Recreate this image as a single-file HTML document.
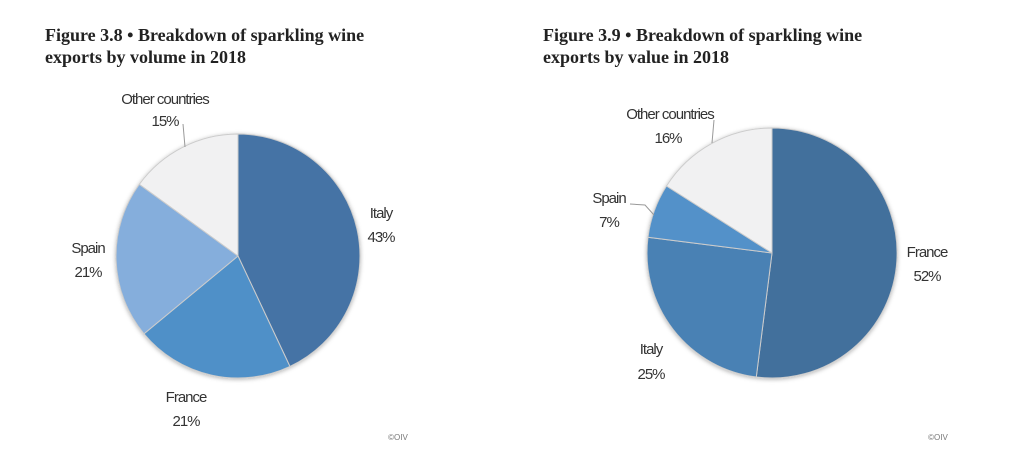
<!DOCTYPE html>
<html><head><style>
body{margin:0;background:#fff;width:1030px;height:469px;overflow:hidden;position:relative}
.t{position:absolute;font-family:"Liberation Serif",serif;font-weight:bold;font-size:18px;color:#222;line-height:22px}
</style></head><body>
<div class="t" style="left:45px;top:24px">Figure 3.8 • Breakdown of sparkling wine<br>exports by volume in 2018</div>
<div class="t" style="left:543px;top:24px">Figure 3.9 • Breakdown of sparkling wine<br>exports by value in 2018</div>
<svg width="1030" height="469" style="position:absolute;left:0;top:0">
<defs><filter id="s" x="-10%" y="-10%" width="120%" height="120%"><feDropShadow dx="0" dy="1" stdDeviation="2" flood-opacity="0.3"/></filter></defs>
<g filter="url(#s)" stroke="#ccc" stroke-width="1">
<path d="M238,256 L238,134 A122,122 0 0 1 289.9,366.4 Z" fill="#4573a5"/>
<path d="M238,256 L289.9,366.4 A122,122 0 0 1 144,333.8 Z" fill="#5090c8"/>
<path d="M238,256 L144,333.8 A122,122 0 0 1 139.3,184.3 Z" fill="#85aedc"/>
<path d="M238,256 L139.3,184.3 A122,122 0 0 1 238,134 Z" fill="#f1f1f2"/>
<path d="M772,253 L772,128 A125,125 0 1 1 756.3,377 Z" fill="#426f9c"/>
<path d="M772,253 L756.3,377 A125,125 0 0 1 648,237.3 Z" fill="#4a81b4"/>
<path d="M772,253 L648,237.3 A125,125 0 0 1 666.5,186 Z" fill="#5291c9"/>
<path d="M772,253 L666.5,186 A125,125 0 0 1 772,128 Z" fill="#f1f1f2"/>
</g>
<g stroke="#999" fill="none"><path d="M183,124 L185,147"/><path d="M714,120 L712,143"/><path d="M630,204 L645,205 L654,215"/></g>
<g font-family="Liberation Sans,sans-serif" font-size="15" fill="#333" text-anchor="middle" style="letter-spacing:-1px">
<text x="165" y="104">Other countries</text><text x="165" y="126">15%</text>
<text x="381" y="218">Italy</text><text x="381" y="242">43%</text>
<text x="88" y="253">Spain</text><text x="88" y="277">21%</text>
<text x="186" y="402">France</text><text x="186" y="426">21%</text>
<text x="670" y="119">Other countries</text><text x="668" y="143">16%</text>
<text x="609" y="203">Spain</text><text x="609" y="227">7%</text>
<text x="927" y="257">France</text><text x="927" y="281">52%</text>
<text x="651" y="354">Italy</text><text x="651" y="379">25%</text>
<text x="398" y="440" font-size="8" fill="#777" style="letter-spacing:0">©OIV</text>
<text x="938" y="440" font-size="8" fill="#777" style="letter-spacing:0">©OIV</text>
</g>
</svg>
</body></html>
